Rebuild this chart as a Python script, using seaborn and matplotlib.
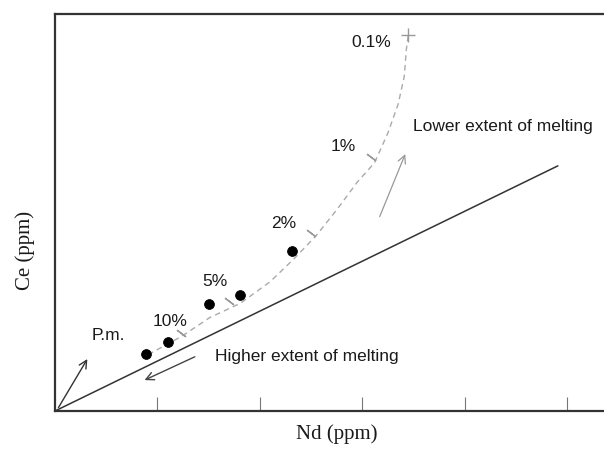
import numpy as np
import pandas as pd
import matplotlib
matplotlib.use('Agg')
import matplotlib.pyplot as plt
import seaborn as sns

# melt samples (Nd, Ce)
sample_nd = [8.9, 11.0, 15.0, 18.1, 23.1]
sample_ce = [5.6, 6.7, 10.4, 11.3, 15.6]

# partial melting curve (dashed)
curve_nd = [9.1, 12.4, 15.1, 18.1, 21.0, 23.4, 25.5, 27.5, 29.5, 31.2, 32.5, 33.5, 34.1, 34.3, 34.5]
curve_ce = [5.5, 7.3, 9.1, 10.5, 12.6, 14.9, 17.1, 19.6, 22.3, 24.2, 27.1, 29.9, 32.6, 35.2, 36.7]

# degree of melting marks on the curve
melt_labels = ['10%', '5%', '2%', '1%']
melt_nd = [12.3, 17.0, 25.0, 30.9]
melt_ce = [7.6, 10.7, 17.4, 24.8]
label_nd = [11.2, 15.6, 22.3, 28.1]
label_ce = [8.7, 12.6, 18.3, 25.8]

# 0.1% end of the curve
end_nd, end_ce = 34.5, 36.7

# primitive mantle ratio line
line_nd = [0, 49.1]
line_ce = [0, 23.9]

sns.set_style('white')
plt.rcParams['font.family'] = ['Liberation Sans', 'DejaVu Sans']

fig = plt.figure(figsize=(6.04, 4.49), dpi=100)
ax = fig.add_axes([0.091, 0.0846, 0.909, 0.8842])

samples = pd.DataFrame({'Nd': sample_nd, 'Ce': sample_ce})
curve = pd.DataFrame({'Nd': curve_nd, 'Ce': curve_ce})

sns.lineplot(x=line_nd, y=line_ce, ax=ax, color='#333333', linewidth=1.1)
sns.lineplot(data=curve, x='Nd', y='Ce', ax=ax, sort=False, estimator=None,
             color='#aaaaaa', linewidth=1.0, linestyle=(0, (4, 3)))
sns.scatterplot(data=samples, x='Nd', y='Ce', ax=ax, color='black', s=50,
                edgecolor='black', zorder=5)

# small tick marks beside the curve
ax.plot(melt_nd, melt_ce, linestyle='none', marker=(2, 2, 53), markersize=8,
        color='#999999', markeredgewidth=1.0)
ax.plot([end_nd], [end_ce], linestyle='none', marker='+', markersize=10,
        color='#999999', markeredgewidth=1.0)

txt = dict(fontsize=12.5, color='#1a1a1a')
for lab, x, y in zip(melt_labels, label_nd, label_ce):
    ax.text(x, y, lab, ha='center', va='center', **txt)
ax.text(30.9, 35.9, '0.1%', ha='center', va='center', **txt)
ax.text(5.2, 7.4, 'P.m.', ha='center', va='center', **txt)
ax.text(35.0, 27.7, 'Lower extent of melting', ha='left', va='center', **txt)
ax.text(15.6, 5.3, 'Higher extent of melting', ha='left', va='center', **txt)

# arrows
ax.annotate('', xy=(3.3, 5.3), xytext=(0.2, 0.1),
            arrowprops=dict(arrowstyle='->', color='#333333', lw=1.0, mutation_scale=14))
ax.annotate('', xy=(8.5, 2.9), xytext=(13.9, 5.4),
            arrowprops=dict(arrowstyle='->', color='#444444', lw=1.0, mutation_scale=14))
ax.annotate('', xy=(34.3, 25.3), xytext=(31.6, 18.7),
            arrowprops=dict(arrowstyle='->', color='#999999', lw=0.9, mutation_scale=14))

ax.set_xlim(0, 53.6)
ax.set_ylim(0, 38.7)
ax.set_xticks([10, 20, 30, 40, 50])
ax.set_xticklabels([])
ax.set_yticks([])
ax.tick_params(axis='x', direction='in', length=10, width=0.8, color='#777777', bottom=True)

for side in ['left', 'bottom', 'top']:
    ax.spines[side].set_linewidth(1.6)
    ax.spines[side].set_color('#333333')
ax.spines['right'].set_visible(False)

serif = ['Liberation Serif', 'DejaVu Serif']
ax.set_xlabel('Nd (ppm)', fontsize=15, family=serif, color='#1a1a1a')
ax.set_ylabel('Ce (ppm)', fontsize=15, family=serif, color='#1a1a1a')
ax.xaxis.set_label_coords(0.514, -0.033)
ax.yaxis.set_label_coords(-0.036, 0.405)

plt.savefig('out.png', dpi=100)
